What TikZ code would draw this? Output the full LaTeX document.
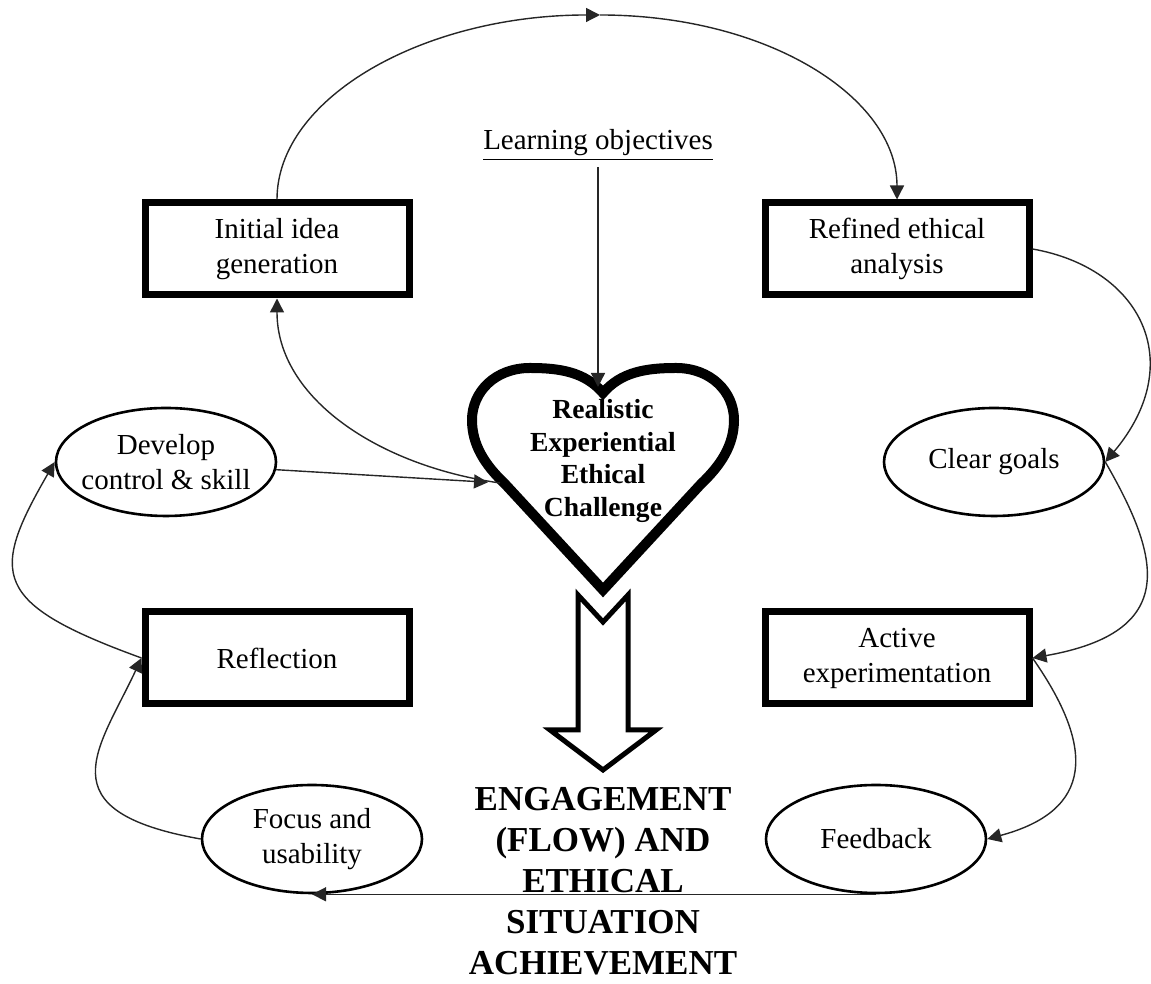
\documentclass[tikz,border=0pt]{standalone}
\usepackage{fontspec}
\setmainfont{Liberation Serif}
\usetikzlibrary{shapes.geometric, arrows.meta, positioning}
\tikzset{
  etapa/.style={rectangle, draw, line width=3.5pt, minimum width=132pt,
    minimum height=46pt, align=center, font=\fontsize{14.5}{17.5}\selectfont},
  estado/.style={ellipse, draw, line width=1.3pt, minimum width=110pt,
    minimum height=54pt, inner xsep=-4pt, inner ysep=0pt, align=center,
    font=\fontsize{14.5}{17.5}\selectfont},
  enlace/.style={-{Triangle[length=7pt,width=7pt]}, line width=0.7pt, color=black!85},
  titulo/.style={align=center, font=\bfseries\fontsize{13.8}{16.3}\selectfont},
  logro/.style={align=center, font=\bfseries\fontsize{17.5}{20.5}\selectfont}
}
\begin{document}
\begin{tikzpicture}[x=0.5pt, y=0.5pt]
  \useasboundingbox (0,0) rectangle (1151,984);
  % cajas y elipses
  \node[etapa] (idea) at (277,735) {Initial idea\\generation};
  \node[etapa, right=174.5pt of idea] (analisis) {Refined ethical\\analysis};
  \node[etapa, below=155pt of idea] (reflex) {Reflection};
  \node[etapa, right=174.5pt of reflex] (activa) {Active\\experimentation};
  \node[estado] (control) at (166,522) {Develop\\control \& skill};
  \node[estado] (metas) at (994,522) {Clear goals};
  \node[estado] (foco) at (312,145) {Focus and\\usability};
  \node[estado] (retro) at (876,145) {Feedback};
  \node[font=\fontsize{14.5}{17.5}\selectfont] (objetivos) at (598,839) {\underline{Learning objectives}};
  % corazon
  \node[titulo] (corazon) at (603,523) {Realistic\\Experiential\\Ethical\\Challenge};
  \coordinate (hnotch) at (603,591);
  \coordinate (hleft) at (500,501);
  \coordinate (cima) at (600,969);
  \draw[line width=5pt, line join=miter] (603,591)
    .. controls (585,612) and (560,616) .. (530,616)
    .. controls (495,616) and (472,592) .. (472,564)
    .. controls (472,539) and (485,519) .. (505,500)
    -- (603,394) -- (701,500)
    .. controls (721,519) and (734,539) .. (734,564)
    .. controls (734,592) and (711,616) .. (676,616)
    .. controls (646,616) and (621,612) .. cycle;
  % flecha hueca
  \draw[line width=2.5pt, fill=white, line join=miter] (578,389) -- (603,362) -- (628,389)
    -- (628,254) -- (656,254) -- (603,214) -- (550,254) -- (578,254) -- cycle;
  \node[logro] (meta) at (603,103) {ENGAGEMENT\\(FLOW) AND\\ETHICAL\\SITUATION\\ACHIEVEMENT};
  % conexiones
  \draw[enlace] (idea.north) to[out=90, in=180, out distance=51pt, in distance=88pt] (cima);
  \draw[enlace] (cima) to[out=0, in=90, out distance=84pt, in distance=51pt] (analisis.north);
  \draw[enlace, shorten >=3pt] (objetivos.south) -- (objetivos.south |- hnotch);
  \draw[enlace] (hleft) to[out=172, in=-90, out distance=61pt, in distance=50pt] (idea.south);
  \draw[enlace, shorten >=6pt] (control.-4) -- (hleft);
  \draw[enlace] (analisis.east) to[out=-10, in=50, out distance=55pt, in distance=65pt] (metas.east);
  \draw[enlace] (metas.east) to[out=-60, in=10, out distance=55pt, in distance=75pt] (activa.east);
  \draw[enlace] (activa.east) to[out=-55, in=15, out distance=55pt, in distance=55pt] (retro.east);
  \draw[enlace] (retro.south) -- (foco.south);
  \draw[enlace] (foco.west) to[out=170, in=-115, out distance=80pt, in distance=50pt] (reflex.west);
  \draw[enlace] (reflex.west) to[out=160, in=-120, out distance=80pt, in distance=65pt] (control.west);
\end{tikzpicture}
\end{document}
